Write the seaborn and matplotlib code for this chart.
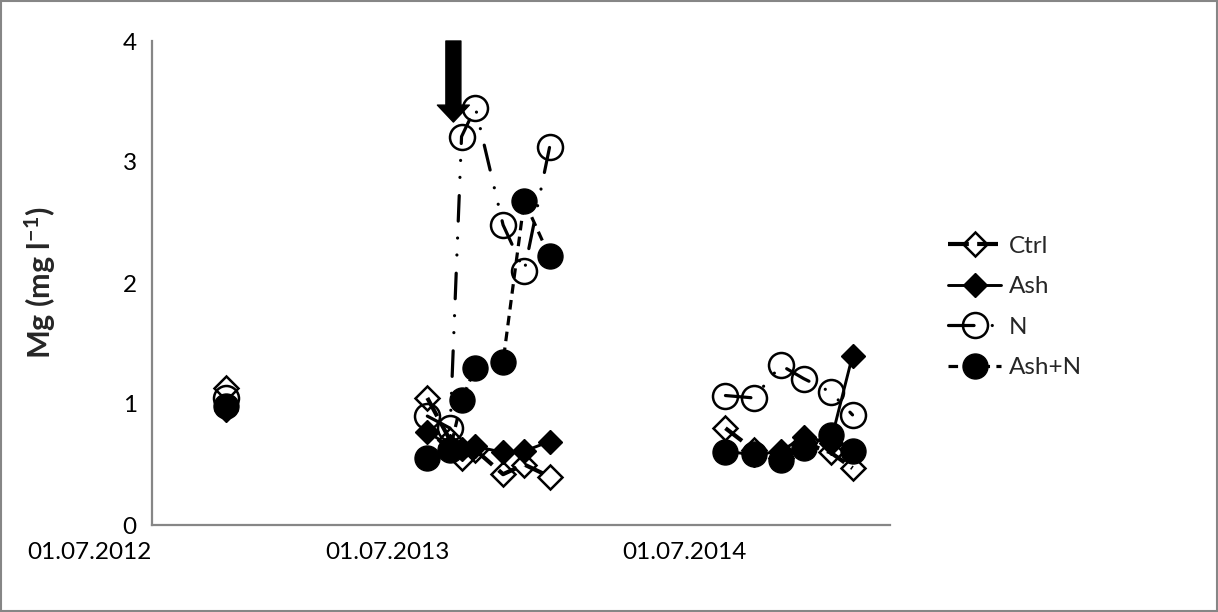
import matplotlib
matplotlib.use("Agg")
import numpy as np
import pandas as pd
import matplotlib.pyplot as plt
import matplotlib.dates as mdates
from matplotlib.patches import Rectangle
import seaborn as sns

# Sampling dates and campaign (year) of each sample
sample_dates = [
    "2012-09-30",
    "2013-06-04", "2013-07-02", "2013-07-16", "2013-08-02",
    "2013-09-05", "2013-10-01", "2013-11-01",
    "2014-06-05", "2014-07-10", "2014-08-12", "2014-09-09",
    "2014-10-12", "2014-11-08",
]
campaign = [2012] + [2013] * 7 + [2014] * 6

# Mg concentration (mg l-1) per treatment
ctrl = [1.13, 1.05, 0.70, 0.55, 0.62, 0.42, 0.50, 0.40,
        0.80, 0.62, 0.55, 0.68, 0.60, 0.47]
ash = [0.95, 0.77, 0.65, 0.63, 0.65, 0.60, 0.61, 0.69,
       0.61, 0.58, 0.61, 0.73, 0.68, 1.40]
n_fert = [1.05, 0.90, 0.80, 3.21, 3.45, 2.48, 2.10, 3.12,
          1.07, 1.05, 1.32, 1.21, 1.10, 0.91]
ash_n = [0.98, 0.55, 0.62, 1.03, 1.30, 1.35, 2.68, 2.22,
         0.60, 0.59, 0.54, 0.64, 0.74, 0.61]

treatments = ["Ctrl", "Ash", "N", "Ash+N"]
tick_dates = ["2012-07-01", "2013-07-01", "2014-07-01"]
axis_start, axis_end = "2012-07-01", "2014-12-24"
fertilisation_date = "2013-07-06"

sns.set_style("white")
plt.rcParams["font.family"] = ["Lato", "DejaVu Sans"]
plt.rcParams["mathtext.fontset"] = "custom"
plt.rcParams["mathtext.rm"] = "Lato:bold"
plt.rcParams["mathtext.it"] = "Lato:bold"
plt.rcParams["mathtext.bf"] = "Lato:bold"

dates = pd.to_datetime(sample_dates)
df = pd.DataFrame({"date": dates, "campaign": campaign,
                   "Ctrl": ctrl, "Ash": ash, "N": n_fert, "Ash+N": ash_n})
long = df.melt(id_vars=["date", "campaign"], value_vars=treatments,
               var_name="treatment", value_name="mg")

styles = {
    "Ctrl": dict(marker="D", markersize=12.5, markerfacecolor="none",
                 markeredgecolor="black", markeredgewidth=1.8,
                 linewidth=3.0, linestyle=(0, (5, 2))),
    "Ash": dict(marker="D", markersize=12.5, markerfacecolor="black",
                markeredgecolor="black", markeredgewidth=1.0,
                linewidth=2.1, linestyle="-"),
    "N": dict(marker="o", markersize=18, markerfacecolor="none",
              markeredgecolor="black", markeredgewidth=1.8,
              linewidth=2.3, linestyle=(0, (8, 5.7, 0.01, 5.3, 0.01, 5.3)),
              dash_capstyle="round"),
    "Ash+N": dict(marker="o", markersize=18, markerfacecolor="black",
                  markeredgecolor="black", markeredgewidth=1.0,
                  linewidth=2.3, linestyle=(0, (3, 2))),
}

fig = plt.figure(figsize=(12.18, 6.12), dpi=100)
ax = fig.add_axes([152 / 1218, 1 - 525 / 612, 738 / 1218, 484 / 612])

handles = []
for name in treatments:
    sub = long[long["treatment"] == name]
    sns.lineplot(data=sub, x="date", y="mg", units="campaign",
                 estimator=None, color="black", legend=False, ax=ax,
                 clip_on=False, **styles[name])
    handles.append(ax.lines[-1])

# Arrow marking the N fertilisation
xd = mdates.date2num(pd.Timestamp(fertilisation_date))
ax.annotate("", xy=(xd, 3.33), xytext=(xd, 4.0),
            arrowprops=dict(arrowstyle="simple,head_length=1.22,head_width=2.3,tail_width=1.08",
                            mutation_scale=10, color="black",
                            shrinkA=0, shrinkB=0), annotation_clip=False)

ax.set_xlim(pd.Timestamp(axis_start), pd.Timestamp(axis_end))
ax.set_ylim(0, 4)
ax.set_yticks([0, 1, 2, 3, 4])
ax.set_xticks(pd.to_datetime(tick_dates))
ax.xaxis.set_major_formatter(mdates.DateFormatter("%d.%m.%Y"))
for lbl in ax.get_xticklabels():
    lbl.set_ha("right")

for side in ["top", "right"]:
    ax.spines[side].set_visible(False)
for side in ["left", "bottom"]:
    ax.spines[side].set_color("#868686")
    ax.spines[side].set_linewidth(1.6)

ax.tick_params(axis="both", which="major", direction="out", length=6,
               width=1.6, color="#868686", labelsize=17.5, labelcolor="black")
ax.tick_params(axis="y", pad=5)
ax.tick_params(axis="x", pad=6)

ax.set_xlabel("")
ax.set_ylabel(r"Mg (mg l$^{-1}$)", fontsize=22, fontweight="bold")
ax.yaxis.set_label_coords(-0.128, 0.5)

ax.legend(handles, treatments, loc="center left",
          bbox_to_anchor=(948 / 1218, 1 - 307 / 612), bbox_transform=fig.transFigure,
          frameon=False, fontsize=17.5, handlelength=2.2, handletextpad=0.3,
          labelspacing=0.8, borderpad=0, borderaxespad=0, numpoints=1)

fig.patches.append(Rectangle((0.0008, 0.0016), 0.9984, 0.9968, transform=fig.transFigure,
                             fill=False, edgecolor="#868686", linewidth=1.5))

fig.savefig("out.png", dpi=100)
